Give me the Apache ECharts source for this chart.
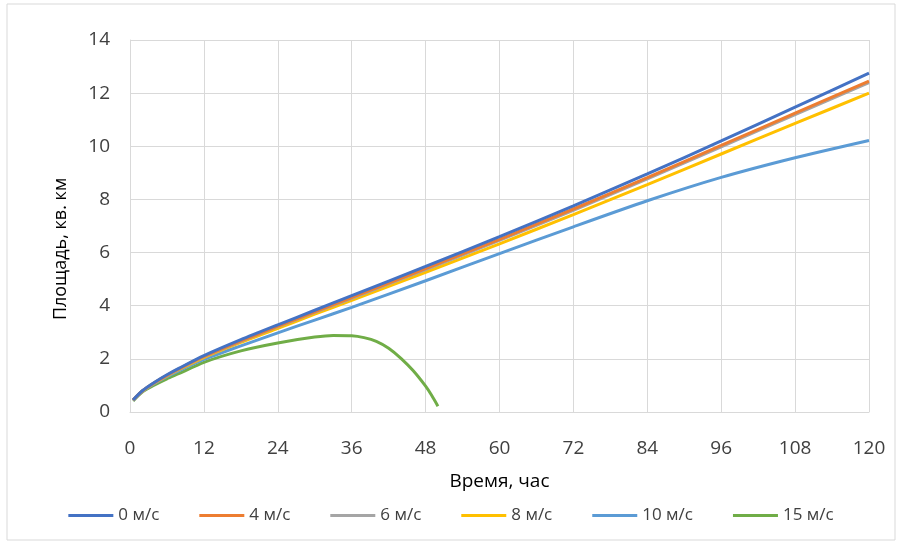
<!DOCTYPE html>
<html><head><meta charset="utf-8">
<script src="https://cdn.jsdelivr.net/npm/echarts@6/dist/echarts.min.js"></script>
<style>html,body{margin:0;padding:0;background:#fff}#c{width:902px;height:547px}</style>
</head><body><div id="c"></div>
<script>
const seriesNames = ['0 м/с','4 м/с','6 м/с','8 м/с','10 м/с','15 м/с'];
const colors = ['#4472C4','#ED7D31','#A5A5A5','#FFC000','#5B9BD5','#70AD47'];
const times = [0.5, 2, 4, 6, 8, 12, 18, 24, 30, 36, 48, 60, 72, 84, 96, 108, 120];
const v0  = [0.45, 0.80, 1.12, 1.40, 1.65, 2.12, 2.72, 3.28, 3.83, 4.38, 5.48, 6.60, 7.76, 8.96, 10.20, 11.47, 12.75];
const v4  = [0.45, 0.79, 1.11, 1.38, 1.63, 2.09, 2.68, 3.23, 3.77, 4.31, 5.40, 6.50, 7.64, 8.82, 10.03, 11.25, 12.45];
const v6  = [0.45, 0.79, 1.10, 1.37, 1.62, 2.08, 2.66, 3.21, 3.75, 4.28, 5.36, 6.46, 7.59, 8.77, 9.98, 11.19, 12.40];
const v8  = [0.44, 0.78, 1.09, 1.36, 1.60, 2.05, 2.62, 3.15, 3.68, 4.20, 5.26, 6.33, 7.43, 8.56, 9.71, 10.86, 12.00];
const v10 = [0.43, 0.77, 1.07, 1.33, 1.56, 1.98, 2.49, 2.98, 3.46, 3.94, 4.94, 5.96, 6.97, 7.95, 8.83, 9.57, 10.22];
const times15 = [0.5, 2, 4, 6, 8, 12, 18, 24, 30, 33, 36, 38, 40, 42, 44, 46, 48, 49, 50];
const v15 = [0.42, 0.75, 1.02, 1.25, 1.45, 1.87, 2.30, 2.60, 2.82, 2.88, 2.87, 2.80, 2.66, 2.40, 2.02, 1.55, 0.97, 0.62, 0.22];
const xTicks = [0, 12, 24, 36, 48, 60, 72, 84, 96, 108, 120];
const yTicks = [0, 2, 4, 6, 8, 10, 12, 14];

const allValues = [v0, v4, v6, v8, v10, v15];
const allTimes = [times, times, times, times, times, times15];
const font = '"Open Sans", "Noto Sans", sans-serif';

const chart = echarts.init(document.getElementById('c'));
chart.setOption({
  animation: false,
  backgroundColor: '#fff',
  graphic: [{type:'rect', shape:{x:7,y:4,width:888,height:536}, style:{fill:'none', stroke:'#d9d9d9', lineWidth:1}, silent:true, z:-1}],
  grid: {left:130, right:33, top:40, bottom:135},
  legend: {
    bottom: 18, left: 'center',
    icon: 'rect', itemWidth: 45, itemHeight: 3, itemGap: 40,
    textStyle: {fontFamily: font, fontSize: 17, color: '#404040'},
    data: seriesNames
  },
  xAxis: {
    type: 'value', min: xTicks[0], max: xTicks[xTicks.length-1], interval: 12,
    name: 'Время, час', nameLocation: 'middle', nameGap: 60,
    nameTextStyle: {fontFamily: font, fontSize: 19, color: '#000'},
    axisLine: {show: true, lineStyle: {color: '#d9d9d9'}},
    axisTick: {show: false},
    axisLabel: {fontFamily: font, fontSize: 19, color: '#404040', margin: 27},
    splitLine: {show: true, lineStyle: {color: '#d9d9d9', width: 1}}
  },
  yAxis: {
    type: 'value', min: yTicks[0], max: yTicks[yTicks.length-1], interval: 2,
    name: 'Площадь, кв. км', nameLocation: 'middle', nameGap: 60,
    nameTextStyle: {fontFamily: font, fontSize: 18, color: '#000', padding: [0, 46, 0, 0]},
    axisLine: {show: true, lineStyle: {color: '#d9d9d9'}},
    axisTick: {show: false},
    axisLabel: {fontFamily: font, fontSize: 19, color: '#404040', margin: 20},
    splitLine: {show: true, lineStyle: {color: '#d9d9d9', width: 1}}
  },
  series: seriesNames.map((n, i) => ({
    name: n, type: 'line', smooth: 0.25, showSymbol: false, symbol: 'none',
    color: colors[i],
    lineStyle: {width: 3, color: colors[i]},
    data: allTimes[i].map((t, k) => [t, allValues[i][k]])
  })).reverse()
});
</script></body></html>
